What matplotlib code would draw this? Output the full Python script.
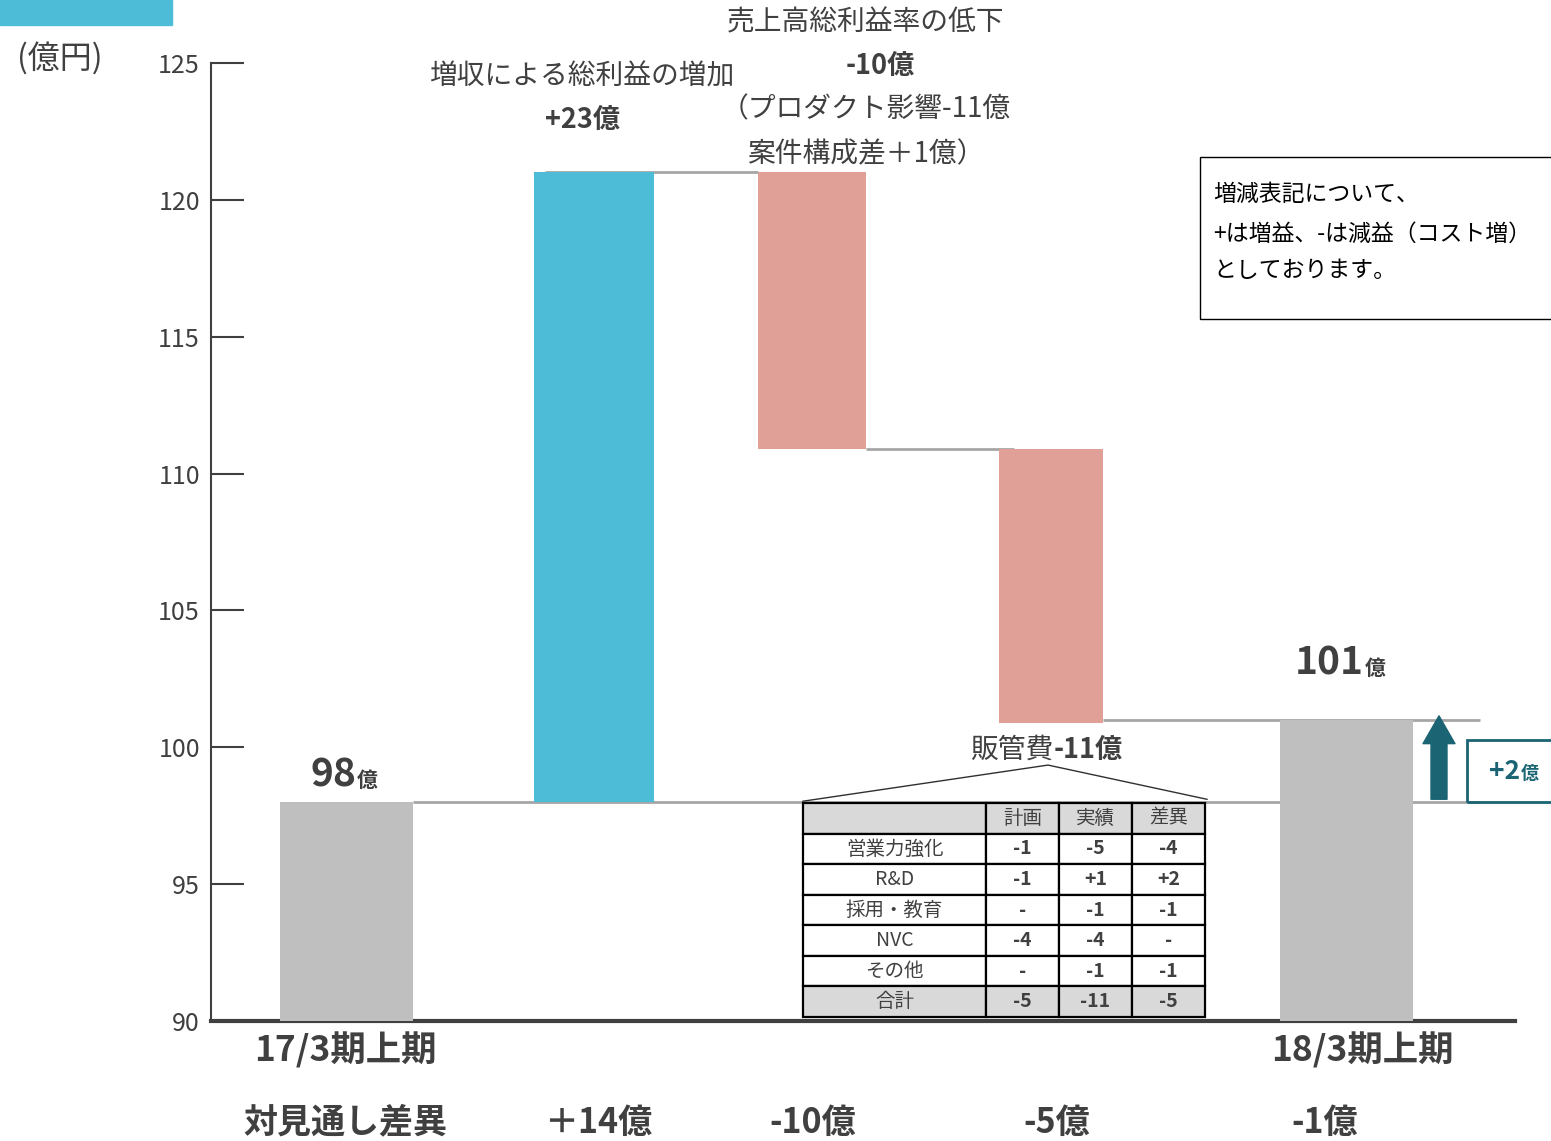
import matplotlib
matplotlib.use("Agg")
import matplotlib.pyplot as plt
from matplotlib.patches import Rectangle, FancyArrowPatch

plt.rcParams['font.family'] = ['Noto Sans CJK JP', 'DejaVu Sans']

# waterfall data (億円)
steps = ['17/3期上期', '総利益増加', '総利益率低下', '販管費', '18/3期上期']
bar_bottoms = [90, 98, 121, 110.9, 90]
bar_tops = [98, 121, 110.9, 100.9, 101]
bar_colors = ['#bfbfbf', '#4dbcd6', '#e0a098', '#e0a098', '#bfbfbf']
diff_labels = ['対見通し差異', '＋14億', '-10億', '-5億', '-1億']

# SG&A breakdown table
tbl_cols = ['', '計画', '実績', '差異']
tbl_rows = ['営業力強化', 'R&D', '採用・教育', 'NVC', 'その他', '合計']
tbl_plan = ['-1', '-1', '-', '-4', '-', '-5']
tbl_actual = ['-5', '+1', '-1', '-4', '-1', '-11']
tbl_diff = ['-4', '+2', '-1', '-', '-1', '-5']

# layout (x in units of 100 px from the y axis)
centers = [1.355, 3.83, 6.01, 8.40, 11.355]
widths = [1.33, 1.20, 1.08, 1.04, 1.33]
diff_x = [1.34, 3.87, 6.02, 8.46, 11.14]

txt = '#404040'
teal = '#1b6474'
grey_line = '#a6a6a6'

fig = plt.figure(figsize=(15.51, 11.41), dpi=100)
ax = fig.add_axes([211/1551, 120/1141, 1304/1551, 958/1141])
ax.set_xlim(0, 13.04)
ax.set_ylim(90, 125)

for c, w, b, t, col in zip(centers, widths, bar_bottoms, bar_tops, bar_colors):
    ax.bar(c, t - b, width=w, bottom=b, color=col, zorder=3)

# connector lines
ax.hlines(bar_tops[0], 2.02, 12.69, color=grey_line, lw=2, zorder=2)
ax.hlines(bar_tops[1], 3.34, 5.47, color=grey_line, lw=2, zorder=2)
ax.hlines(bar_tops[2], 6.55, 8.03, color=grey_line, lw=2, zorder=2)
ax.hlines(bar_tops[4], 8.92, 12.69, color=grey_line, lw=2, zorder=2)

for s in ['top', 'right']:
    ax.spines[s].set_visible(False)
ax.spines['left'].set_linewidth(1.5)
ax.spines['left'].set_color(txt)
ax.spines['bottom'].set_linewidth(3)
ax.spines['bottom'].set_color(txt)
ax.set_yticks([90, 95, 100, 105, 110, 115, 120, 125])
ax.set_xticks([])
ax.tick_params(axis='y', direction='in', length=24, width=1.5, color=txt,
               labelsize=18, labelcolor=txt, pad=8)

fig.text(60/1551, 1 - 58/1141, '(億円)', fontsize=23, color=txt, ha='center', va='center')
fig.patches.append(Rectangle((0, 1 - 25/1141), 172/1551, 25/1141, color='#4dbcd6',
                             transform=fig.transFigure, figure=fig))

# value labels on totals
ax.text(1.45, 98.55, '98', fontsize=28, fontweight='bold', color=txt, ha='right', va='baseline')
ax.text(1.46, 98.55, '億', fontsize=15, fontweight='bold', color=txt, ha='left', va='baseline')
ax.text(11.53, 102.65, '101', fontsize=28, fontweight='bold', color=txt, ha='right', va='baseline')
ax.text(11.54, 102.65, '億', fontsize=15, fontweight='bold', color=txt, ha='left', va='baseline')

# step annotations
ax.text(3.71, 124.5, '増収による総利益の増加', fontsize=20, color=txt, ha='center', va='center')
ax.text(3.71, 122.9, '+23億', fontsize=19.5, fontweight='bold', color=txt, ha='center', va='center')
ax.text(6.55, 126.5, '売上高総利益率の低下', fontsize=20, color=txt, ha='center', va='center')
ax.text(6.69, 124.9, '-10億', fontsize=19.5, fontweight='bold', color=txt, ha='center', va='center')
ax.text(6.55, 123.3, '（プロダクト影響-11億', fontsize=20, color=txt, ha='center', va='center')
ax.text(6.55, 121.68, '案件構成差＋1億）', fontsize=20, color=txt, ha='center', va='center')
ax.text(8.42, 99.9, '販管費', fontsize=20, color=txt, ha='right', va='center')
ax.text(8.43, 99.9, '-11億', fontsize=19.5, fontweight='bold', color=txt, ha='left', va='center')

# callout lines to table
ax.plot([5.92, 8.37, 9.96], [98.03, 99.35, 98.1], color='#303030', lw=1, zorder=4)

# breakdown table
cells = [tbl_cols] + [[r, p, a, d] for r, p, a, d in zip(tbl_rows, tbl_plan, tbl_actual, tbl_diff)]
tb = ax.table(cellText=cells, cellLoc='center',
              bbox=[(803-211)/1304, 4/958, 402/1304, 214/958],
              colWidths=[183, 73, 73, 73])
tb.auto_set_font_size(False)
nrow = len(cells)
for (r, c), cell in tb.get_celld().items():
    cell.set_edgecolor('black')
    cell.set_linewidth(1.6)
    cell.set_text_props(fontsize=14, color=txt)
    if r == 0 or r == nrow - 1:
        cell.set_facecolor('#d9d9d9')
    if r > 0 and c > 0:
        cell.set_text_props(fontweight='bold')
tb.set_zorder(5)

# +2億 arrow and box
arr = FancyArrowPatch((12.28, bar_tops[0]), (12.28, 101.25),
                      arrowstyle='simple,head_width=2.3,head_length=2.0,tail_width=1.15',
                      mutation_scale=10, color=teal, zorder=4)
ax.add_patch(arr)
ax.add_patch(Rectangle((12.56, 98.0), 1.6, 2.26, fill=False, edgecolor=teal, lw=2,
                       clip_on=False, zorder=4))
ax.text(13.09, 98.85, '+2', fontsize=19, fontweight='bold', color=teal, ha='right', va='baseline')
ax.text(13.10, 98.85, '億', fontsize=13, fontweight='bold', color=teal, ha='left', va='baseline')

# note box
ax.add_patch(Rectangle((9.89, 115.66), 4.0, 5.91, fill=False, edgecolor='black', lw=1,
                       clip_on=False))
ax.text(10.02, 120.18, '増減表記について、', fontsize=16.5, color='black', ha='left', va='center')
ax.text(10.02, 118.76, '+は増益、-は減益（コスト増）', fontsize=16.5, color='black', ha='left', va='center')
ax.text(10.02, 117.41, 'としております。', fontsize=16.5, color='black', ha='left', va='center')

# category and difference labels under the axis
ax.text(1.34, 88.94, steps[0], fontsize=25.5, fontweight='bold', color=txt,
        ha='center', va='center')
ax.text(11.51, 88.94, steps[4], fontsize=25.5, fontweight='bold', color=txt,
        ha='center', va='center')
for x, lab in zip(diff_x, diff_labels):
    ax.text(x, 86.3, lab, fontsize=24.5, fontweight='bold', color=txt, ha='center', va='center')

fig.savefig('out.png', dpi=100)
